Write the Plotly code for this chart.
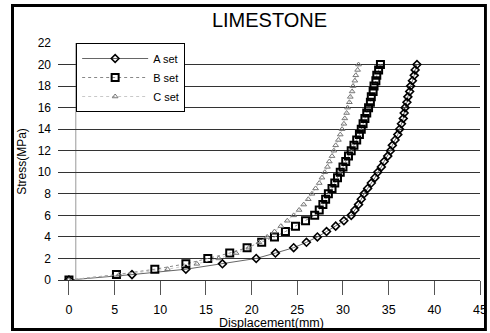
import plotly.graph_objects as go

stress = [0, 0.5, 1.0, 1.5, 2.0, 2.5, 3.0, 3.5, 4.0, 4.5, 5.0, 5.5, 6.0, 6.5, 7.0, 7.5,
          8.0, 8.5, 9.0, 9.5, 10.0, 10.5, 11.0, 11.5, 12.0, 12.5, 13.0, 13.5, 14.0, 14.5,
          15.0, 15.5, 16.0, 16.5, 17.0, 17.5, 18.0, 18.5, 19.0, 19.5, 20.0]

disp_a = [0, 6.9, 12.8, 16.8, 20.5, 22.6, 24.6, 26.0, 27.2, 28.2, 29.2, 30.1, 30.9, 31.3,
          31.7, 32.0, 32.3, 32.7, 33.1, 33.5, 33.8, 34.2, 34.5, 34.9, 35.2, 35.4, 35.7,
          36.0, 36.2, 36.4, 36.6, 36.7, 36.8, 37.0, 37.1, 37.3, 37.4, 37.6, 37.8, 37.9, 38.1]

disp_b = [0, 5.2, 9.4, 12.8, 15.2, 17.6, 19.5, 21.1, 22.5, 23.7, 24.8, 25.9, 26.9, 27.4,
          27.8, 28.1, 28.4, 28.8, 29.1, 29.4, 29.7, 30.0, 30.3, 30.6, 30.9, 31.2, 31.5,
          31.8, 32.0, 32.2, 32.4, 32.6, 32.8, 33.0, 33.1, 33.3, 33.4, 33.6, 33.7, 33.9, 34.1]

disp_c = [0, 5.5, 10.8, 14.0, 16.4, 18.3, 19.7, 20.8, 21.7, 22.5, 23.2, 23.9, 24.6, 25.2,
          25.7, 26.2, 26.6, 27.0, 27.4, 27.7, 28.0, 28.3, 28.5, 28.8, 29.0, 29.2, 29.5,
          29.7, 29.9, 30.1, 30.2, 30.4, 30.5, 30.7, 30.8, 31.0, 31.1, 31.3, 31.4, 31.6, 31.7]

series_names = ["A set", "B set", "C set"]
x_ticks = [0, 5, 10, 15, 20, 25, 30, 35, 40, 45]
y_ticks = [0, 2, 4, 6, 8, 10, 12, 14, 16, 18, 20, 22]

FONT = "Liberation Sans, Arial, sans-serif"

fig = go.Figure()
fig.add_trace(go.Scatter(
    x=disp_a, y=stress, name=series_names[0], mode="lines+markers",
    line=dict(color="#666666", width=1),
    marker=dict(symbol="diamond-open", size=6, color="black", line=dict(width=1.6, color="black")),
))
fig.add_trace(go.Scatter(
    x=disp_b, y=stress, name=series_names[1], mode="lines+markers",
    line=dict(color="#888888", width=1, dash="dot"),
    marker=dict(symbol="square-open", size=7, color="black", line=dict(width=2, color="black")),
))
fig.add_trace(go.Scatter(
    x=disp_c, y=stress, name=series_names[2], mode="lines+markers",
    line=dict(color="#bbbbbb", width=0.8, dash="dot"),
    marker=dict(symbol="triangle-up-open", size=5, color="#777777", line=dict(width=1, color="#777777")),
))

fig.update_layout(
    width=490, height=333,
    margin=dict(l=58, r=10, t=43, b=53, autoexpand=False),
    paper_bgcolor="white", plot_bgcolor="white",
    font=dict(family=FONT, color="black", size=12),
    title=dict(text="LIMESTONE", x=0.55, xanchor="center", xref="container",
               y=1 - 20 / 333, yanchor="middle", yref="container",
               font=dict(size=20, family=FONT, color="black")),
    showlegend=True,
    legend=dict(x=0.043, y=1.0, xanchor="left", yanchor="top",
                bgcolor="white", bordercolor="black", borderwidth=1,
                font=dict(size=11, family=FONT), itemwidth=66,
                tracegroupgap=0),
    xaxis=dict(range=[-1.2, 45], tickvals=x_ticks, showgrid=False, zeroline=False,
               ticks="outside", ticklen=14, tickcolor="#555555", tickwidth=1,
               ticklabelstandoff=4, automargin=False,
               showline=False,
               tickfont=dict(size=12.5, family=FONT)),
    yaxis=dict(range=[0, 22], tickvals=y_ticks, showgrid=True, gridcolor="#333333", gridwidth=1,
               zeroline=True, zerolinecolor="#333333", zerolinewidth=1,
               ticks="", tickfont=dict(size=12, family=FONT), ticklabelstandoff=6,
               showline=False, automargin=False,
               title=dict(text="Stress(MPa)", standoff=8, font=dict(size=12, family=FONT))),
    annotations=[
        dict(text="Displacement(mm)", xref="paper", yref="paper", x=0.505, y=-0.182,
             xanchor="center", yanchor="middle", showarrow=False,
             font=dict(size=12.5, family=FONT, color="black")),
        dict(text=" ", xref="paper", yref="paper", x=0.4526, y=0.4747,
             xanchor="center", yanchor="middle", showarrow=False,
             width=470, height=321, borderpad=0,
             bordercolor="black", borderwidth=2),
    ],
    shapes=[
        dict(type="line", xref="x", yref="paper", x0=0.75, x1=0.75, y0=0, y1=1,
             line=dict(color="#999999", width=1), layer="below"),
        dict(type="rect", xref="paper", yref="paper", x0=-0.109, x1=1.014, y0=-0.211, y1=1.160,
             line=dict(color="black", width=2), fillcolor="rgba(0,0,0,0)", layer="above"),
    ],
)

fig.write_html("out.html", config={"displayModeBar": False},
               post_script="document.body.style.margin='0';document.body.style.padding='0';")
